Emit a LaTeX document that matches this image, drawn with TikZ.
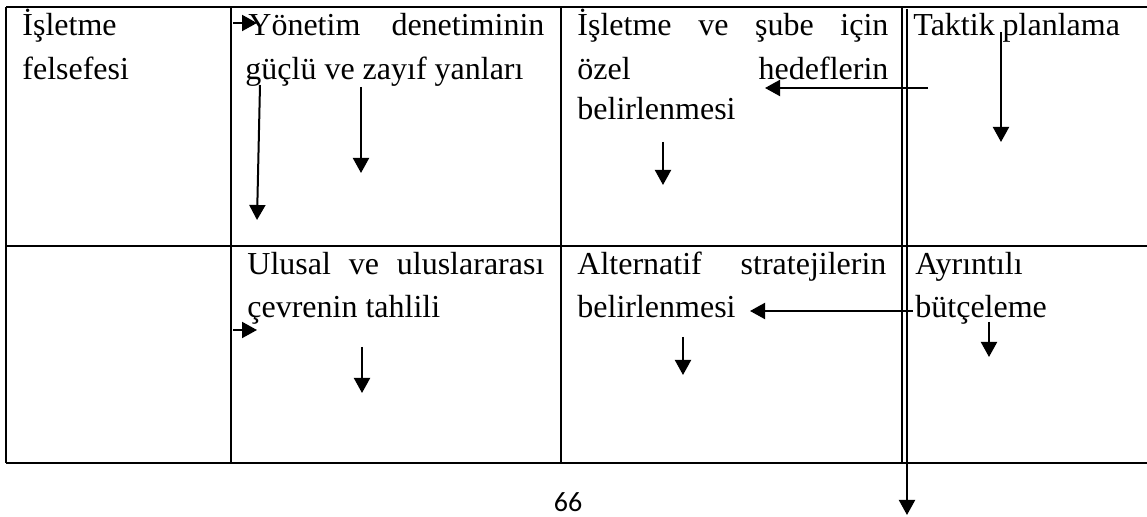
\documentclass[tikz,border=0pt]{standalone}
\usepackage{fontspec}
\setmainfont{Liberation Serif}
\newfontfamily\pagefont{Carlito}
\usetikzlibrary{arrows.meta}
\begin{document}
\begin{tikzpicture}[x=0.5pt,y=-0.5pt,
  grid/.style={line width=1.1pt},
  arr/.style={line width=1pt,-{Triangle[length=7.5pt,width=8pt]}},
  txt/.style={anchor=base west,inner sep=0pt,font=\fontsize{16}{19}\selectfont},
  pnum/.style={anchor=center,inner sep=0pt,font=\pagefont\fontsize{14}{16}\selectfont}]
\useasboundingbox (0,0) rectangle (1147,517);
% table
\draw[grid] (6,7) -- (1150,7);
\draw[grid] (6,246) -- (1150,246);
\draw[grid] (6,463) -- (1150,463);
\draw[grid] (6,7) -- (6,463);
\draw[grid] (231,7) -- (231,463);
\draw[grid] (561,7) -- (561,463);
\draw[grid] (902,7) -- (902,463);
% texts row 1
\node[txt] (t11a) at (22,36) {İşletme};
\node[txt] (t11b) at (22,80) {felsefesi};
\node[txt] (t12a) at (248,36) {\makebox[148pt][s]{Yönetim denetiminin}};
\node[txt] (t12b) at (245,80) {güçlü ve zayıf yanları};
\node[txt] (t13a) at (577,36) {\makebox[155.5pt][s]{İşletme ve şube için}};
\node[txt] (t13b) at (577,80) {\makebox[155.5pt][s]{özel hedeflerin}};
\node[txt] (t13c) at (577,120) {belirlenmesi};
\node[txt] (t14a) at (913,36) {Taktik planlama};
% texts row 2
\node[txt] (t22a) at (247,275) {\makebox[148.5pt][s]{Ulusal ve uluslararası}};
\node[txt] (t22b) at (247,318) {çevrenin tahlili};
\node[txt] (t23a) at (577,275) {\makebox[154.5pt][s]{Alternatif stratejilerin}};
\node[txt] (t23b) at (577,318) {belirlenmesi};
\node[txt] (t24a) at (915,275) {Ayrıntılı};
\node[txt] (t24b) at (915,318) {bütçeleme};
% page number
\node[pnum] (pg) at (568,502) {66};
% arrow end points
\coordinate (a1s) at (233,23);  \coordinate (a1e) at (257,23);
\coordinate (a2s) at (260,85);  \coordinate (a2e) at (257,220);
\coordinate (a3s) at (361,87);  \coordinate (a3e) at (361,173);
\coordinate (a4s) at (663,142); \coordinate (a4e) at (663,185);
\coordinate (a5s) at (928,88);  \coordinate (a5e) at (765,88);
\coordinate (a6s) at (1001,32); \coordinate (a6e) at (1001,142);
\coordinate (a7s) at (907,9);   \coordinate (a7e) at (907,515);
\coordinate (a8s) at (233,330); \coordinate (a8e) at (257,330);
\coordinate (a9s) at (362,347); \coordinate (a9e) at (362,393);
\coordinate (a10s) at (683,337); \coordinate (a10e) at (683,375);
\coordinate (a11s) at (913,311); \coordinate (a11e) at (750,311);
\coordinate (a12s) at (989,322); \coordinate (a12e) at (989,357);
\foreach \i in {1,...,12} {\draw[arr] (a\i s) -- (a\i e);}
\end{tikzpicture}
\end{document}
